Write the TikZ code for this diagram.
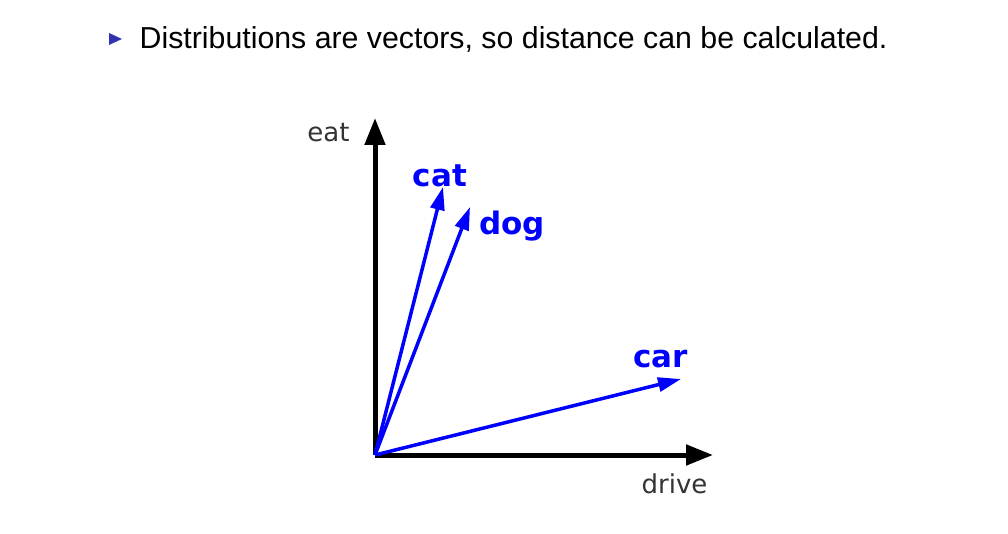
\documentclass[tikz,border=0pt]{standalone}
\usepackage{fontspec}
\setmainfont{Liberation Sans}
\newfontfamily\djv{DejaVu Sans}
\usetikzlibrary{arrows.meta}
\definecolor{bulletblue}{HTML}{3333B2}
\definecolor{vecblue}{HTML}{0000FF}
\definecolor{axisgray}{HTML}{333333}
\begin{document}
\begin{tikzpicture}[x=1pt,y=-1pt,
  axis/.style={line width=5pt,-{Triangle[length=27pt,width=20pt]}},
  vec/.style={line width=3.5pt,draw=vecblue,-{Triangle[length=23pt,width=14pt]}},
  axlabel/.style={font=\djv\fontsize{26}{26}\selectfont,text=axisgray,inner sep=0pt,anchor=base},
  veclabel/.style={font=\djv\bfseries\fontsize{31}{31}\selectfont,text=vecblue,inner sep=0pt,anchor=base}]
\useasboundingbox (0,0) rectangle (1008,534);
% bullet line
\fill[bulletblue] (109,33) -- (109,45) -- (122,39) -- cycle;
\node[anchor=base west,inner sep=0pt,font=\fontsize{30.3}{30.3}\selectfont] (title) at (139.5,49) {Distributions are vectors, so distance can be calculated.};
% axes
\coordinate (O) at (375,455);
\coordinate (ytip) at (375,118);
\coordinate (xtip) at (713,455);
\draw[axis] (O) -- (ytip);
\draw[axis] (O) -- (xtip);
\node[axlabel] (eat) at (328.5,142) {eat};
\node[axlabel] (drive) at (674.5,493) {drive};
% vectors
\coordinate (cattip) at (443,187);
\coordinate (dogtip) at (470,207);
\coordinate (cartip) at (681,379);
\draw[vec] (O) -- (cattip);
\draw[vec] (O) -- (dogtip);
\draw[vec] (O) -- (cartip);
\node[veclabel] (cat) at (440,187) {cat};
\node[veclabel] (dog) at (512,235) {dog};
\node[veclabel] (car) at (660.5,367) {car};
\end{tikzpicture}
\end{document}
